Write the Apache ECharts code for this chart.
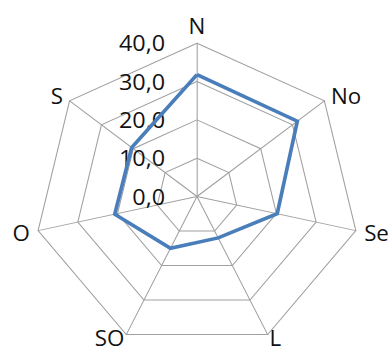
<!DOCTYPE html>
<html>
<head>
<meta charset="utf-8">
<script src="https://cdn.jsdelivr.net/npm/echarts@6/dist/echarts.min.js"></script>
<style>
  html, body { margin: 0; padding: 0; background: #fff; overflow: hidden; }
  #wrap { width: 392px; height: 353px; overflow: hidden; }
  /* the plot is drawn slightly wider than tall */
  #chart { width: 369px; height: 353px; transform: scaleX(1.063); transform-origin: 0 0; }
</style>
</head>
<body>
<div id="wrap"><div id="chart"></div></div>
<script>
// Directions, clockwise from the top
const directions = ['N', 'No', 'Se', 'L', 'SO', 'O', 'S'];
// Value for each direction
const values = [31.8, 31.5, 20.2, 12.0, 15.0, 20.7, 20.5];
// Ring levels shown on the N axis
const tickValues = [0, 10, 20, 30, 40];

const fontFamily = '"Open Sans", Lato, sans-serif';
const gray = '#a0a0a0';

// ECharts lays radar axes out counter-clockwise; keep the first axis on top
// and reverse the rest so the directions run clockwise.
const order = [0].concat(directions.slice(1).map((_, i) => directions.length - 1 - i));
const axisMax = tickValues[tickValues.length - 1];
// the two bottom names sit a little closer to their corners
const tightNames = ['L', 'SO'];

const indicator = order.map((k, i) => {
  const ind = { name: directions[k], min: tickValues[0], max: axisMax };
  if (tightNames.indexOf(directions[k]) >= 0) ind.nameGap = 4;
  if (i === 0) {
    ind.axisLabel = {
      show: true,
      margin: 30,
      color: '#111',
      fontSize: 22,
      fontFamily: fontFamily,
      formatter: v => v.toFixed(1).replace('.', ',')
    };
  }
  return ind;
});
const seriesValues = order.map(k => values[k]);

const chart = echarts.init(document.getElementById('chart'), null, { renderer: 'svg' });
chart.setOption({
  animation: false,
  radar: {
    center: [185.3, 196.5],
    radius: 153.3,
    startAngle: 90,
    shape: 'polygon',
    splitNumber: tickValues.length - 1,
    indicator: indicator,
    nameGap: 8,
    axisName: {
      color: '#111',
      fontSize: 21,
      lineHeight: 19,
      fontFamily: fontFamily
    },
    axisLine: { show: true, lineStyle: { color: gray, width: 1 } },
    axisTick: { show: false },
    axisLabel: { show: false },
    splitLine: { show: true, lineStyle: { color: gray, width: 1 } },
    splitArea: { show: false }
  },
  series: [{
    type: 'radar',
    symbol: 'none',
    lineStyle: { color: '#4A7EBB', width: 3.5, join: 'miter' },
    data: [{ value: seriesValues }]
  }]
});
</script>
</body>
</html>
